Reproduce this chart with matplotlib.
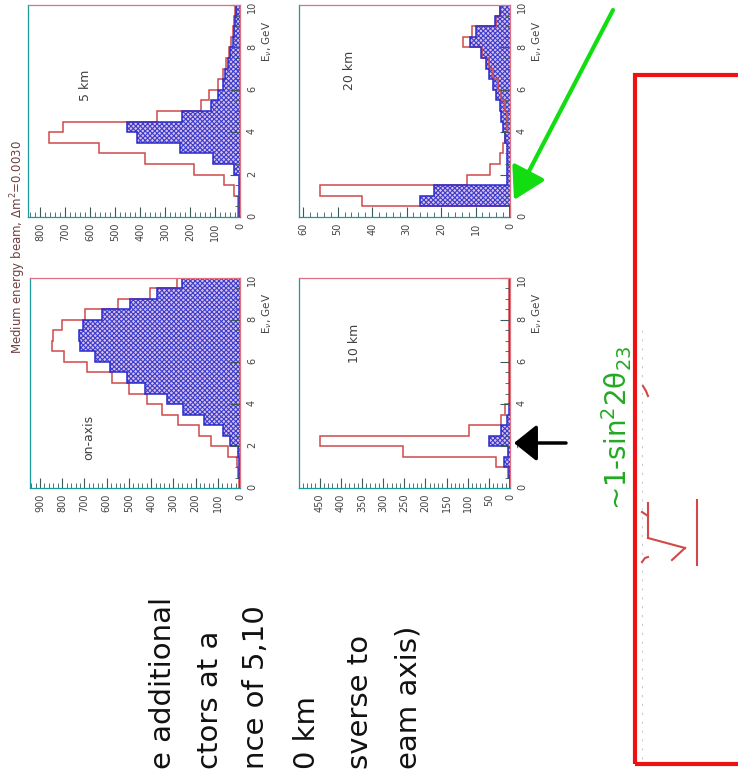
import matplotlib
matplotlib.use("Agg")
import matplotlib.pyplot as plt
import numpy as np
from matplotlib.patches import FancyArrowPatch, Rectangle
from matplotlib.lines import Line2D
from matplotlib.ticker import MultipleLocator

W, H = 738, 772

# energy bins, 0.5 GeV wide
energy_edges = np.arange(0, 10.01, 0.5)

# unoscillated (red outline) and oscillated (blue filled) spectra
red_5km = [8, 10, 23, 63, 184, 379, 564, 764, 710, 332, 157, 123, 90, 70, 55, 45, 35, 30, 25, 20]
blue_5km = [3, 3, 5, 5, 25, 110, 240, 412, 452, 231, 117, 87, 70, 60, 50, 40, 30, 25, 20, 15]

red_20km = [0, 43, 55, 12.5, 5.8, 3, 2, 1.5, 1, 1, 1.5, 2.5, 3.5, 5, 6, 8, 13.6, 11, 4, 3]
blue_20km = [0, 26, 22, 1, 1, 1, 1, 1.5, 2, 2.5, 3, 4, 5, 6, 7, 8.5, 11.7, 10, 4.3, 3]

red_onaxis = [3, 8, 15, 55, 130, 185, 280, 350, 420, 500, 575, 690, 790, 845, 840, 800, 697, 547, 405, 285]
blue_onaxis = [2, 3, 5, 8, 45, 78, 162, 258, 330, 427, 510, 585, 652, 720, 724, 705, 622, 495, 375, 262]

red_10km = [0, 5, 34, 254, 450, 98, 22, 12, 3, 3, 2, 2, 2, 2, 2, 2, 2, 2, 2, 2]
blue_10km = [0, 2, 14, 5, 50, 22, 8, 2, 1, 1, 1, 1, 1, 1, 1, 1, 1, 1, 1, 1]

panel_labels = ["5 km", "20 km", "on-axis", "10 km"]
title_text = r"Medium energy beam, $\Delta$m$^2$=0.0030"
slide_lines = ["e additional", "ctors at a", "nce of 5,10", "0 km", "sverse to", "eam axis)"]

red_col = "#d04a4a"
blue_col = "#2a2ad0"
tick_col = "#3a5a5a"

plt.rcParams["mathtext.fontset"] = "dejavusans"
plt.rcParams["hatch.linewidth"] = 0.8

fig = plt.figure(figsize=(W / 100, H / 100), dpi=100)


def px_axes(x0, y0, x1, y1):
    return fig.add_axes([x0 / W, 1 - y1 / H, (x1 - x0) / W, (y1 - y0) / H])


def fx(x):
    return x / W


def fy(y):
    return 1 - y / H


panels = [
    (red_5km, blue_5km, 850, 100, 20, (28, 5, 240, 217), (0.27, 0.62)),
    (red_20km, blue_20km, 61.2, 10, 2, (299, 5, 510, 217), (0.24, 0.69)),
    (red_onaxis, blue_onaxis, 945, 100, 20, (30, 278, 240, 488), (0.28, 0.24)),
    (red_10km, blue_10km, 499, 50, 10, (299, 278, 510, 488), (0.265, 0.69)),
]

for i, (red, blue, xmax, major, minor, box, tpos) in enumerate(panels):
    ax = px_axes(*box)
    ax.stairs(blue, energy_edges, orientation="horizontal", fill=True,
              facecolor="#dcc0ea", edgecolor="#3a3ecc", hatch="xxxxxxx", linewidth=0)
    ax.stairs(red, energy_edges, orientation="horizontal", color=red_col, lw=1.1)
    ax.stairs(blue, energy_edges, orientation="horizontal", color=blue_col, lw=1.1)
    ax.set_xlim(xmax, 0)
    ax.set_ylim(0, 10)
    ax.xaxis.set_major_locator(MultipleLocator(major))
    ax.xaxis.set_minor_locator(MultipleLocator(minor))
    ax.yaxis.set_major_locator(MultipleLocator(2))
    ax.yaxis.set_minor_locator(MultipleLocator(0.5))
    ax.yaxis.tick_right()
    ax.tick_params(axis="both", which="both", direction="in", colors=tick_col,
                   labelcolor="#444444", labelsize=7)
    ax.tick_params(which="major", length=7, width=0.8)
    ax.tick_params(which="minor", length=3.5, width=0.6)
    ax.tick_params(axis="x", labelrotation=90, pad=4)
    ax.tick_params(axis="y", labelrotation=90, pad=5)
    for side, sp in ax.spines.items():
        sp.set_linewidth(0.9)
        sp.set_color("#1a9a9a" if side in ("left", "bottom") else "#e07080")
    ax.text(tpos[0], tpos[1], panel_labels[i], transform=ax.transAxes, rotation=90,
            ha="center", va="center", fontsize=9, color="#404040")
    ax.text(1.13, 0.83, r"E$_\nu$, GeV", transform=ax.transAxes, rotation=90,
            ha="center", va="center", fontsize=7.5, color="#444444")

fig.text(fx(18), fy(247), title_text, rotation=90, ha="center", va="center",
         fontsize=8.5, color="#704040")

# slide text, kept inside the bottom edge
line_x = [163, 210, 256, 307, 360, 408]
for s, x in zip(slide_lines, line_x):
    fig.text(fx(x), fy(769), s, rotation=90, ha="center", va="bottom",
             fontsize=21, color="#111111")

fig.text(fx(617), fy(428), r"~1-sin$^2$2θ$_{23}$", rotation=90, ha="center",
         va="center", fontsize=20, color="#22aa22")

# arrows
fig.add_artist(FancyArrowPatch((fx(613), fy(10)), (fx(514), fy(200)),
                               transform=fig.transFigure, shrinkA=0, shrinkB=0,
                               arrowstyle="-|>,head_length=0.6,head_width=0.35",
                               mutation_scale=32, color="#11dd11", lw=3))
fig.add_artist(FancyArrowPatch((fx(566), fy(443)), (fx(514), fy(443)),
                               transform=fig.transFigure, shrinkA=0, shrinkB=0,
                               arrowstyle="-|>,head_length=0.5,head_width=0.4",
                               mutation_scale=28, color="black", lw=2.5))

# red box
fig.add_artist(Rectangle((fx(635), fy(764)), fx(200), 689 / H, transform=fig.transFigure,
                         fill=False, edgecolor="#ee1111", lw=3))
fig.add_artist(Line2D([fx(642), fx(642)], [fy(330), fy(760)], transform=fig.transFigure,
                      color="#cccccc", lw=0.8, ls=(0, (2, 6))))

# hand sketch inside the box
sketch = [
    ([648, 648], [503, 538]),
    ([648, 685], [538, 548]),
    ([685, 672], [548, 560]),
    ([642, 648], [512, 516]),
    ([697, 697], [500, 565]),
    ([643, 646, 648], [386, 391, 396]),
    ([642, 645, 648], [562, 558, 557]),
]
for xs, ys in sketch:
    fig.add_artist(Line2D([fx(v) for v in xs], [fy(v) for v in ys],
                          transform=fig.transFigure, color="#d04848", lw=1.5))

fig.savefig("out.png", dpi=100)
